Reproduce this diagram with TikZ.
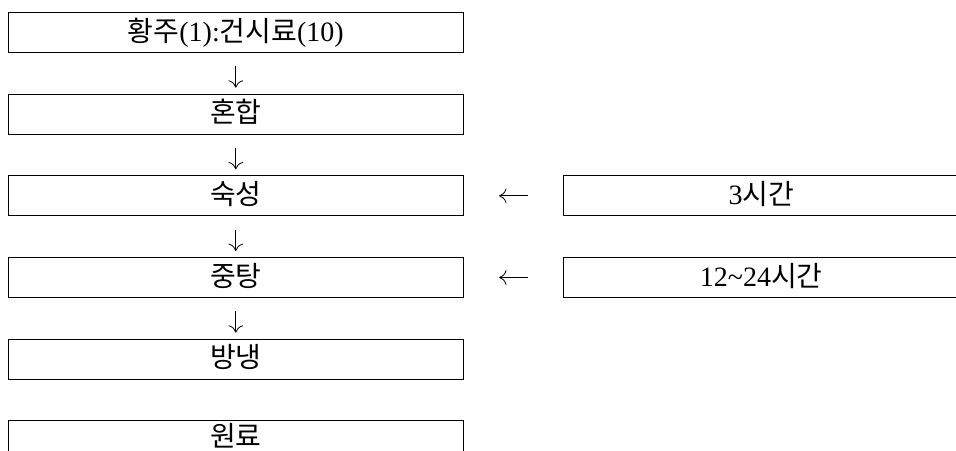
\documentclass[tikz,border=0pt]{standalone}
\usepackage{fontspec}
\setmainfont{Liberation Serif}
\newfontfamily\kr{Noto Sans CJK KR}
\usepackage{tikz}
\usetikzlibrary{positioning}
\usetikzlibrary{arrows.meta}
\tikzset{
  proc_node/.style = {rectangle, draw=black, line width=0.75pt,
    minimum width=341.25pt, minimum height=30pt, inner sep=0pt,
    text centered, text height=14.5pt, text depth=1.5pt,
    font=\fontsize{21}{24}\selectfont},% flow step
  time_node/.style = {proc_node, minimum width=296.5pt},% time on the side
  flow_arrow/.style = {-{To[length=5.5pt,width=11pt]}, line width=0.6pt}
}

\begin{document}
\begin{tikzpicture}[x=0.75pt, y=-0.75pt, node distance=30.5pt]
  \useasboundingbox (0,0) rectangle (956,450);
  \node [proc_node] (mix_in) at (235.8,32.5) {{\kr 황주}(1):{\kr 건시료}(10)};
  \node [proc_node, below=of mix_in] (mix) {\kr 혼합};
  \node [proc_node, below=of mix] (ripen) {\kr 숙성};
  \node [proc_node, below=of ripen] (steam) {\kr 중탕};
  \node [proc_node, below=of steam] (cool) {\kr 방냉};
  \node [proc_node, below=of cool, text height=12pt, text depth=4pt] (raw) {\kr 원료};
  \node [time_node, right=74.5pt of ripen] (t_ripen) {3{\kr 시간}};
  \node [time_node, right=74.5pt of steam] (t_steam) {12\textasciitilde24{\kr 시간}};
  % steps down the left column
  \foreach \a/\b in {mix_in/mix, mix/ripen, ripen/steam, steam/cool}
    \draw [flow_arrow, shorten <=10pt, shorten >=4.5pt] (\a) -- (\b);
  % times feed in from the right
  \draw [flow_arrow, shorten <=26.5pt, shorten >=26.5pt] (t_ripen) -- (ripen);
  \draw [flow_arrow, shorten <=26.5pt, shorten >=26.5pt] (t_steam) -- (steam);
\end{tikzpicture}
\end{document}
